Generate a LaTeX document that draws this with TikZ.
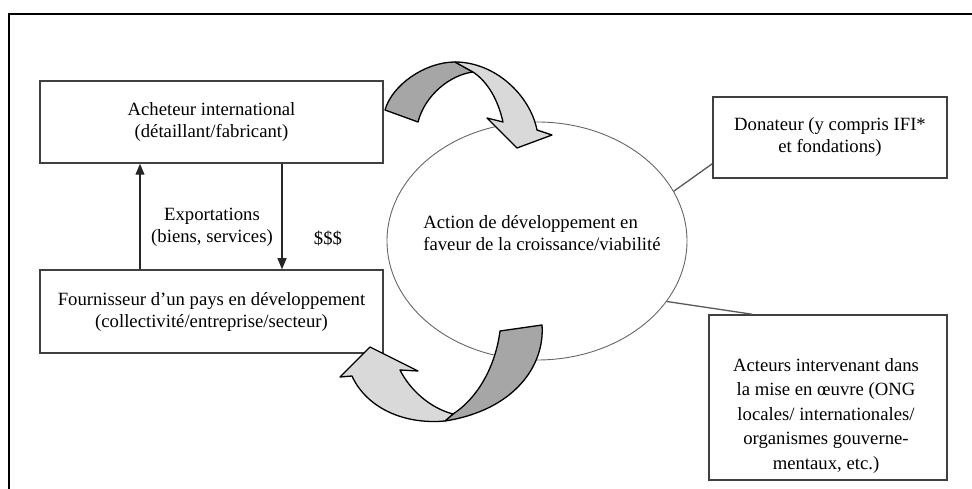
\documentclass[tikz,border=0pt]{standalone}
\usepackage{fontspec}
\setmainfont{Liberation Serif}
\usetikzlibrary{arrows.meta, shapes.geometric}
\tikzset{
  box/.style = {rectangle, draw=black!75, line width=1.5pt, inner sep=0pt, align=center},
  link/.style = {draw=black!65, line width=1.3pt},
  flow/.style = {draw=black!85, line width=1.2pt, -{Triangle[length=11pt, width=9pt]}},
  backband/.style = {fill=black!35, draw=black, line width=1.3pt, line join=round},
  frontband/.style = {fill=black!15, draw=black, line width=1.3pt, line join=round}
}

\begin{document}
\begin{tikzpicture}[x=1pt, y=-1pt, font=\fontsize{18.7}{22}\selectfont]

\useasboundingbox (0,0) rectangle (972,489);
\draw[line width=2.2pt] (9,489) -- (9,14) -- (972,14);

% trade partners on the left
\node at (211.5,122) [box, minimum width=343, minimum height=82] (buyer) {Acheteur international\\(détaillant/fabricant)};
\node at (211.5,311.5) [box, minimum width=343, minimum height=83] (supplier) {Fournisseur d’un pays en développement\\(collectivité/entreprise/secteur)};

\coordinate (upx) at (140,220);
\coordinate (downx) at (282,220);
\draw[flow] (supplier.north -| upx) -- (buyer.south -| upx);
\draw[flow] (buyer.south -| downx) -- (supplier.north -| downx);
\node at (212,227.5) [align=center] (exports) {Exportations\\(biens, services)};
\node at (328,238) (money) {\$\$\$};

% development action and its partners
\node at (537,241) [ellipse, draw=black!60, line width=0.9pt, minimum width=300, minimum height=238, inner sep=0pt] (action) {};
\node at (542,233) [align=left] (actiontext) {Action de développement en\\faveur de la croissance/viabilité};

\node at (830,137.5) [box, minimum width=234, minimum height=81] (donor) {Donateur (y compris IFI*\\et fondations)};
\node at (828,397.5) [box, minimum width=238, minimum height=165] (actors) {};
\node at (826,416) [align=center, font=\fontsize{18.7}{24.5}\selectfont] (actorstext) {Acteurs intervenant dans\\la mise en œuvre (ONG\\locales/ internationales/\\organismes gouverne-\\mentaux, etc.)};

\draw[link] (action.20) -- ([yshift=15pt]donor.south west);
\draw[link] (action.-25) -- ([xshift=44pt]actors.north west);

% twisted ribbon arrows
\draw[backband] (385,110) .. controls (392,85) and (425,62) .. (455,62)
  -- (473,72) .. controls (450,75) and (425,95) .. (418,122) -- cycle;
\draw[frontband] (455,62) .. controls (495,62) and (530,95) .. (537,130)
  -- (552,135) -- (517,148) -- (487,118) -- (503,122)
  .. controls (498,100) and (488,82) .. (473,72) -- cycle;

\draw[backband] (500,331) -- (542,325) .. controls (545,365) and (515,410) .. (445,421)
  -- (453,414) .. controls (475,400) and (495,370) .. cycle;
\draw[frontband] (445,421) .. controls (400,425) and (365,405) .. (352,376)
  -- (340,377) -- (370,347) -- (418,371) -- (400,370)
  .. controls (410,390) and (430,408) .. (453,414) -- cycle;

\end{tikzpicture}
\end{document}
